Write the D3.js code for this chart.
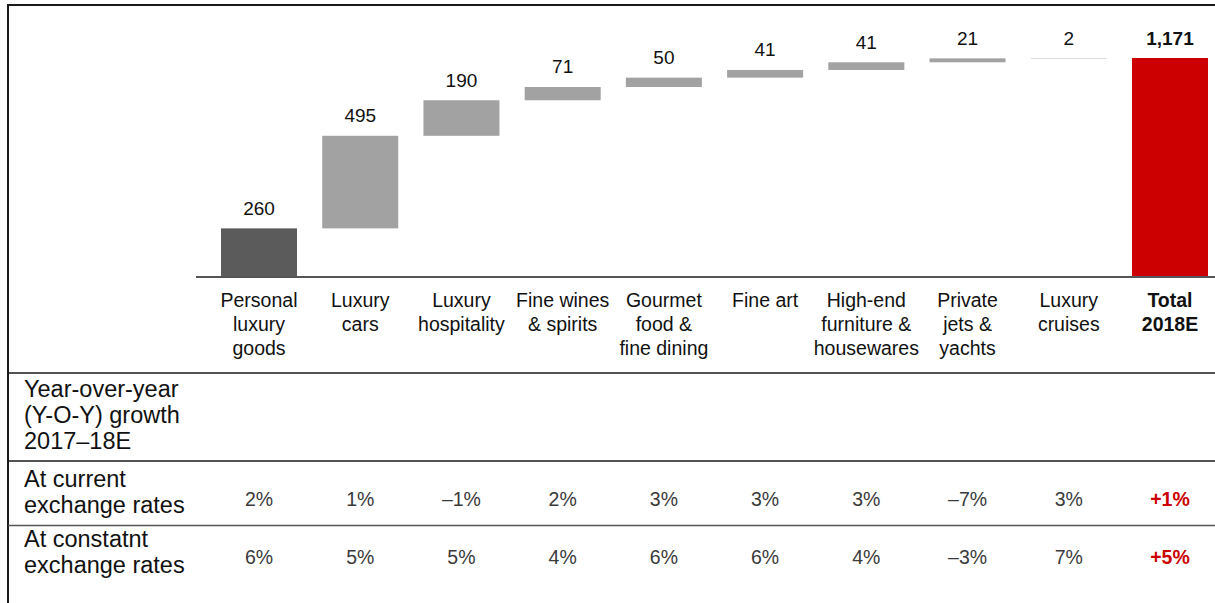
<!DOCTYPE html>
<html>
<head>
<meta charset="utf-8">
<script src="https://cdn.jsdelivr.net/npm/d3@7/dist/d3.min.js"></script>
<style>
  html, body { margin: 0; padding: 0; background: #fff; }
  svg { display: block; font-family: "Liberation Sans", Arial, sans-serif; }
</style>
</head>
<body>
<svg id="chart" width="1215" height="603"></svg>
<script>
// Luxury market segments, contribution to the 2018E total (EUR billions)
const categories = [
  "Personal luxury goods", "Luxury cars", "Luxury hospitality", "Fine wines & spirits",
  "Gourmet food & fine dining", "Fine art", "High-end furniture & housewares",
  "Private jets & yachts", "Luxury cruises", "Total 2018E"
];
const categoryLines = [
  ["Personal", "luxury", "goods"], ["Luxury", "cars"], ["Luxury", "hospitality"],
  ["Fine wines", "& spirits"], ["Gourmet", "food &", "fine dining"], ["Fine art"],
  ["High-end", "furniture &", "housewares"], ["Private", "jets &", "yachts"],
  ["Luxury", "cruises"], ["Total", "2018E"]
];
const segmentValues = [260, 495, 190, 71, 50, 41, 41, 21, 2];
const totalValue = 1171;

// Y-O-Y growth rows
const rowLabels = [
  ["Year-over-year", "(Y-O-Y) growth", "2017\u201318E"],
  ["At current", "exchange rates"],
  ["At constatnt", "exchange rates"]
];
const growthCurrent = ["2%", "1%", "\u20131%", "2%", "3%", "3%", "3%", "\u20137%", "3%", "+1%"];
const growthConstant = ["6%", "5%", "5%", "4%", "6%", "6%", "4%", "\u20133%", "7%", "+5%"];

// Waterfall steps: each segment floats on the running sum of the previous ones
const ends = Array.from(d3.cumsum(segmentValues));
const steps = categories.map((c, i) => {
  if (i < segmentValues.length) {
    return { cat: c, lo: ends[i] - segmentValues[i], hi: ends[i], value: segmentValues[i], kind: i === 0 ? "first" : "step" };
  }
  return { cat: c, lo: 0, hi: totalValue, value: totalValue, kind: "total" };
});

const svg = d3.select("#chart");

const x = d3.scaleBand()
  .domain(categories)
  .range([221, 1208])
  .paddingInner(0.249)
  .paddingOuter(0);

const y = d3.scaleLinear()
  .domain([0, totalValue])
  .range([277, 58]);

const fill = { first: "#5b5b5b", step: "#a2a2a2", total: "#cc0000" };

// Frame: top rule and left rule
svg.append("line").attr("x1", 8).attr("x2", 1215).attr("y1", 5).attr("y2", 5)
  .attr("stroke", "#1a1a1a").attr("stroke-width", 2);
svg.append("line").attr("x1", 8).attr("x2", 8).attr("y1", 4).attr("y2", 603)
  .attr("stroke", "#1a1a1a").attr("stroke-width", 2);

// Bars
svg.append("g").selectAll("rect")
  .data(steps)
  .join("rect")
  .attr("x", d => x(d.cat))
  .attr("width", x.bandwidth())
  .attr("y", d => y(d.hi))
  .attr("height", d => y(d.lo) - y(d.hi))
  .attr("fill", d => fill[d.kind]);

// Baseline
svg.append("line").attr("x1", 196).attr("x2", 1215).attr("y1", y(0)).attr("y2", y(0))
  .attr("stroke", "#555").attr("stroke-width", 2);

// Value labels above each bar
const fmt = d3.format(",");
svg.append("g").selectAll("text")
  .data(steps)
  .join("text")
  .attr("x", d => x(d.cat) + x.bandwidth() / 2)
  .attr("y", d => y(d.hi) - 13.5)
  .attr("text-anchor", "middle")
  .attr("font-size", 19)
  .attr("font-weight", d => d.kind === "total" ? "bold" : "normal")
  .attr("fill", "#111")
  .text(d => fmt(d.value));

// Category labels under the baseline
const catG = svg.append("g").selectAll("text")
  .data(categories)
  .join("text")
  .attr("x", d => x(d) + x.bandwidth() / 2)
  .attr("y", 307)
  .attr("text-anchor", "middle")
  .attr("font-size", 19.5)
  .attr("font-weight", (d, i) => i === categories.length - 1 ? "bold" : "normal")
  .attr("fill", "#111");
catG.selectAll("tspan")
  .data((d, i) => categoryLines[i])
  .join("tspan")
  .attr("x", function () { return d3.select(this.parentNode).attr("x"); })
  .attr("dy", (d, j) => j === 0 ? 0 : 24)
  .text(d => d);

// Table rules
const rules = [
  { y: 373, color: "#1a1a1a", w: 1.5 },
  { y: 461, color: "#1a1a1a", w: 1.5 },
  { y: 525.5, color: "#555", w: 1.5 }
];
svg.append("g").selectAll("line")
  .data(rules)
  .join("line")
  .attr("x1", 8).attr("x2", 1215)
  .attr("y1", d => d.y).attr("y2", d => d.y)
  .attr("stroke", d => d.color)
  .attr("stroke-width", d => d.w);

// Row headers
const rowTop = [397, 487, 547];
const rowG = svg.append("g").selectAll("text")
  .data(rowLabels)
  .join("text")
  .attr("x", 24)
  .attr("y", (d, i) => rowTop[i])
  .attr("font-size", 23.5)
  .attr("fill", "#111");
rowG.selectAll("tspan")
  .data(d => d)
  .join("tspan")
  .attr("x", 24)
  .attr("dy", (d, j) => j === 0 ? 0 : 26)
  .text(d => d);

// Growth values
const growthRows = [
  { values: growthCurrent, y: 506 },
  { values: growthConstant, y: 563.5 }
];
growthRows.forEach(row => {
  svg.append("g").selectAll("text")
    .data(row.values)
    .join("text")
    .attr("x", (d, i) => x(categories[i]) + x.bandwidth() / 2)
    .attr("y", row.y)
    .attr("text-anchor", "middle")
    .attr("font-size", 19.5)
    .attr("font-weight", (d, i) => i === categories.length - 1 ? "bold" : "normal")
    .attr("fill", (d, i) => i === categories.length - 1 ? "#cc0000" : "#3a3a3a")
    .text(d => d);
});
</script>
</body>
</html>
